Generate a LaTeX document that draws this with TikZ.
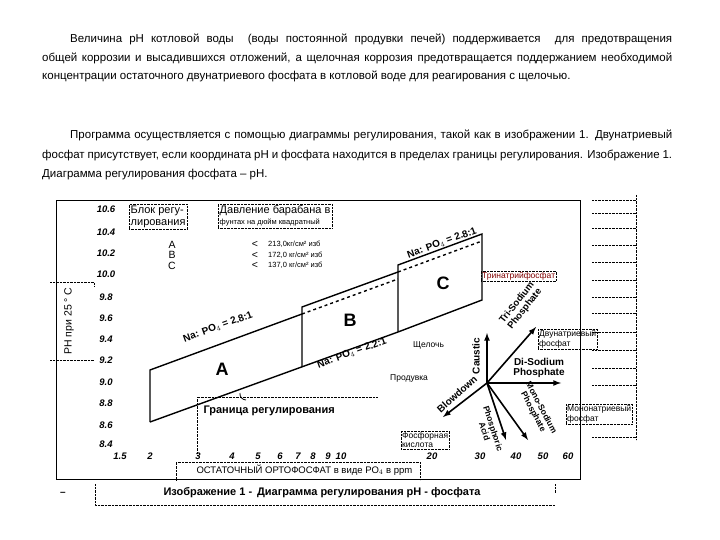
\documentclass[tikz,border=0pt]{standalone}
\usepackage{fontspec}
\setmainfont{Liberation Sans}
\begin{document}
\begin{tikzpicture}[x=1pt,y=-1pt,
  dot/.style={densely dotted,line width=0.4pt},
  ax/.style={font=\bfseries\itshape\fontsize{9.5}{9.5}\selectfont},
  ln/.style={line width=1.4pt},
  arr/.style={line width=1.6pt,-latex},
  vl/.style={font=\bfseries\fontsize{10}{10}\selectfont,align=center,inner sep=0.5pt},
  ru/.style={font=\fontsize{8.5}{9.5}\selectfont,align=left,inner sep=1pt,draw,dot}]
\useasboundingbox (0,0) rectangle (720,540);
\node[anchor=north west,text width=630pt,align=justify,font=\fontsize{11.5}{18.6}\selectfont,inner sep=0] (p1) at (42,34)
 {\hspace*{28pt}Величина pH котловой воды \ (воды постоянной продувки печей) поддерживается \ для предотвращения общей коррозии и высадившихся отложений, а щелочная коррозия предотвращается поддержанием необходимой концентрации остаточного двунатриевого фосфата в котловой воде для реагирования с щелочью.};
\node[anchor=north west,text width=630pt,align=justify,font=\fontsize{11.5}{19.5}\selectfont,inner sep=0] (p2) at (42,130)
 {\hspace*{28pt}Программа осуществляется с помощью диаграммы регулирования, такой как в изображении 1. Двунатриевый фосфат присутствует, если координата pH и фосфата находится в пределах границы регулирования. Изображение 1. Диаграмма регулирования фосфата -- pH.};
% frame
\draw[line width=1pt] (56,201) -- (580,201) -- (580,479) -- (56,479) -- cycle;
% y axis
\foreach \v/\y in {10.6/209,10.4/232,10.2/253,10.0/274,9.8/297,9.6/318,9.4/339,9.2/360,9.0/382,8.8/403,8.6/425,8.4/444}
  \node[ax] (y\y) at (106,\y) {\v};
\foreach \v/\x in {1.5/120,2/150,3/198,4/232,5/258,6/280,7/298,8/313,9/328,10/341,20/432,30/480,40/516,50/543,60/568}
  \node[ax] (x\x) at (\x,456) {\v};
% regions
\draw[ln] (150,422) -- (150,370) -- (302,314);
\draw[ln] (150,422) -- (398,332) -- (482,300) -- (482,234) -- (398,265) -- (398,332);
\draw[ln] (302,367) -- (302,307) -- (398,272);
\draw[ln,dashed] (302,314) -- (398,279);
\draw[ln,dashed] (398,272) -- (482,241);
\node[font=\bfseries\fontsize{18}{18}\selectfont] (A) at (222,369) {A};
\node[font=\bfseries\fontsize{18}{18}\selectfont] (B) at (350,320) {B};
\node[font=\bfseries\fontsize{18}{18}\selectfont] (C) at (443,283) {C};
\node[vl,rotate=20] (l1) at (218,327) {Na: PO$_4$ = 2.8:1};
\node[vl,rotate=20] (l2) at (352,353) {Na: PO$_4$ = 2.2:1};
\node[vl,rotate=20] (l3) at (442,243) {Na: PO$_4$ = 2.8:1};
% top boxes
\node[draw,dot,anchor=north west,align=left,font=\fontsize{11}{12.5}\selectfont,inner sep=1.5pt] (blk) at (129,204) {Блок регу-\\лирования};
\node[draw,dot,anchor=north west,align=left,inner sep=1.5pt] (dav) at (218,204) {{\fontsize{11}{12}\selectfont Давление барабана в}\\[-1pt]{\fontsize{7.5}{9}\selectfont фунтах на дюйм квадратный}};
\node[align=center,font=\fontsize{10.5}{10.5}\selectfont,inner sep=0] (abc) at (172,255) {A\\B\\C};
\node[align=center,font=\fontsize{10.5}{10.5}\selectfont,inner sep=0] (lt) at (255,255) {<\\<\\<};
\node[align=left,anchor=west,font=\fontsize{7.5}{10.5}\selectfont,inner sep=0] (pr) at (268,255) {213,0кг/см² изб\\172,0 кг/см² изб\\137,0 кг/см² изб};
% pH label
\draw[dot] (50,282) -- (94,282) -- (94,286);
\draw[dot] (50,360) -- (94,360);
\node[rotate=90,font=\fontsize{10.5}{10.5}\selectfont] (ph) at (69,321) {PH при 25 ° C};
% boundary label
\node[anchor=west,font=\bfseries\fontsize{11}{11}\selectfont] (gr) at (200,411) {Граница регулирования};
\draw[dot] (197,455) -- (197,397) -- (378,397);
\draw[line width=0.8pt] (240,393) to[out=-100,in=180] (246,400);
\node[anchor=west,font=\fontsize{9.5}{10}\selectfont] (xt) at (193,470) {ОСТАТОЧНЫЙ ОРТОФОСФАТ в виде PO$_4$ в ppm};
\draw[dot] (176,480) -- (176,462) -- (420,462) -- (420,480);
\node[anchor=west,font=\bfseries\fontsize{11}{11}\selectfont] (cap) at (160,493) {Изображение 1 -\, Диаграмма регулирования pH - фосфата};
\draw[dot] (95,484) -- (95,505) -- (555,505); \draw[dot] (555,484) -- (555,493);
\node[font=\bfseries] (dash) at (63,494) {--};
% vector diagram
\coordinate (o) at (487,383);
\coordinate (eu) at (487,333);
\coordinate (ur) at (536,327);
\coordinate (er) at (561,383);
\coordinate (dl) at (443,417);
\coordinate (dd) at (506,440);
\coordinate (dr) at (528,440);
\foreach \e in {eu,ur,er,dl,dd,dr} \draw[arr] (o) -- (\e);
\node[vl,rotate=90] (ca) at (476,356) {Caustic};
\node[vl,rotate=52,font=\bfseries\fontsize{9.5}{10}\selectfont] (ts) at (521,306) {Tri-Sodium\\Phosphate};
\node[vl] (ds) at (539,368) {Di-Sodium\\Phosphate};
\node[vl,rotate=42] (bd) at (457,394) {Blowdown};
\node[vl,rotate=-72,font=\bfseries\fontsize{8.5}{9}\selectfont] (pa) at (489,430) {Phosphoric\\Acid};
\node[vl,rotate=-62,font=\bfseries\fontsize{8.5}{9}\selectfont] (ms) at (537,410) {Mono-Sodium\\Phosphate};
% russian labels
\node[ru,anchor=west,text=red!50!black] (tri) at (481,276) {Тринатрийфосфат};
\node[ru,anchor=west,draw=none] (sh) at (412,345) {Щелочь};
\node[ru,anchor=west,draw=none] (pd) at (389,378) {Продувка};
\node[ru,anchor=west] (dv) at (538,339) {Двунатриевый\\фосфат};
\node[ru,anchor=west] (mn) at (566,414) {Мононатриевый\\фосфат};
\node[ru,anchor=west] (fk) at (401,440) {Фосфорная\\кислота};
% right dotted column
\foreach \y in {200,213,228,245,262,280,297,313,332,350,368,385,437} \draw[dot] (592,\y) -- (636,\y);
\draw[dot] (636,195) -- (636,440);
\end{tikzpicture}
\end{document}
